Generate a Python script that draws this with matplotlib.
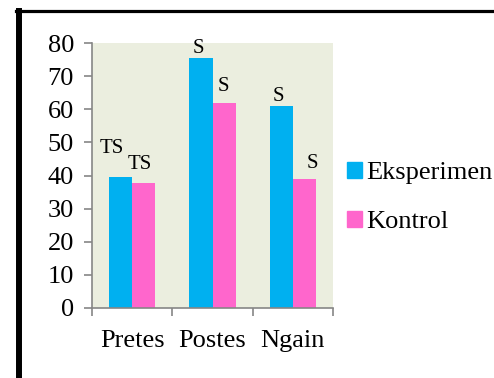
import numpy as np
import matplotlib.pyplot as plt
from matplotlib.lines import Line2D
from matplotlib.patches import Patch

plt.rcParams['font.family'] = ['Liberation Serif', 'DejaVu Serif']

categories = ['Pretes', 'Postes', 'Ngain']
eksperimen = [39.6, 75.7, 61.1]
kontrol = [37.8, 62.0, 39.0]
# annotation text, x (category units), y (data units)
notes = [('TS', -0.25, 48.3), ('TS', 0.10, 43.2),
         ('S', 0.82, 78.3), ('S', 1.14, 66.8),
         ('S', 1.82, 63.8), ('S', 2.24, 43.5)]

c_eks = '#00B0F0'
c_kon = '#FF66CC'
grey = '#868686'

fig = plt.figure(figsize=(4.94, 3.78), dpi=100)
W, H = 494, 378
ax = fig.add_axes([92 / W, 1 - 307.7 / H, (333 - 92) / W, (307.7 - 43.3) / H])
ax.set_facecolor('#EBEEDF')

x = np.arange(len(categories))
bw = 0.2875
ax.bar(x - bw / 2, eksperimen, bw, color=c_eks, zorder=2)
ax.bar(x + bw / 2, kontrol, bw, color=c_kon, zorder=2)

for t, tx, ty in notes:
    ax.text(tx, ty, t, ha='center', va='center', fontsize=15, clip_on=False)

ax.set_xlim(-0.5, 2.5)
ax.set_ylim(0, 80)
ax.set_yticks(range(0, 81, 10))
ax.set_xticks([-0.5, 0.5, 1.5, 2.5])
ax.set_xticklabels([])
ax.set_xticks(x, minor=True)
ax.set_xticklabels(categories, minor=True, fontsize=19)
ax.tick_params(axis='x', which='minor', length=0, pad=16)
ax.tick_params(axis='x', which='major', direction='out', length=6, color=grey, width=1.2)
ax.tick_params(axis='y', direction='out', length=6, color=grey, width=1.2, labelsize=19, pad=7)
for s in ['top', 'right']:
    ax.spines[s].set_visible(False)
for s in ['left', 'bottom']:
    ax.spines[s].set_color(grey)
    ax.spines[s].set_linewidth(1.2)

handles = [Patch(color=c_eks), Patch(color=c_kon)]
fig.legend(handles, ['Eksperimen', 'Kontrol'], loc='center left',
           bbox_to_anchor=(323 / W, 1 - 197.5 / H), frameon=False, fontsize=19,
           handlelength=0.57, handleheight=0.57, handletextpad=0.15, labelspacing=1.0)

# outer frame
fig.add_artist(Line2D([19 / W, 19 / W], [0, 1 - 10.5 / H], color='black', lw=4.3))
fig.add_artist(Line2D([16 / W, 1], [1 - 10.5 / H, 1 - 10.5 / H], color='black', lw=2.3))

fig.savefig('out.png', dpi=100)
